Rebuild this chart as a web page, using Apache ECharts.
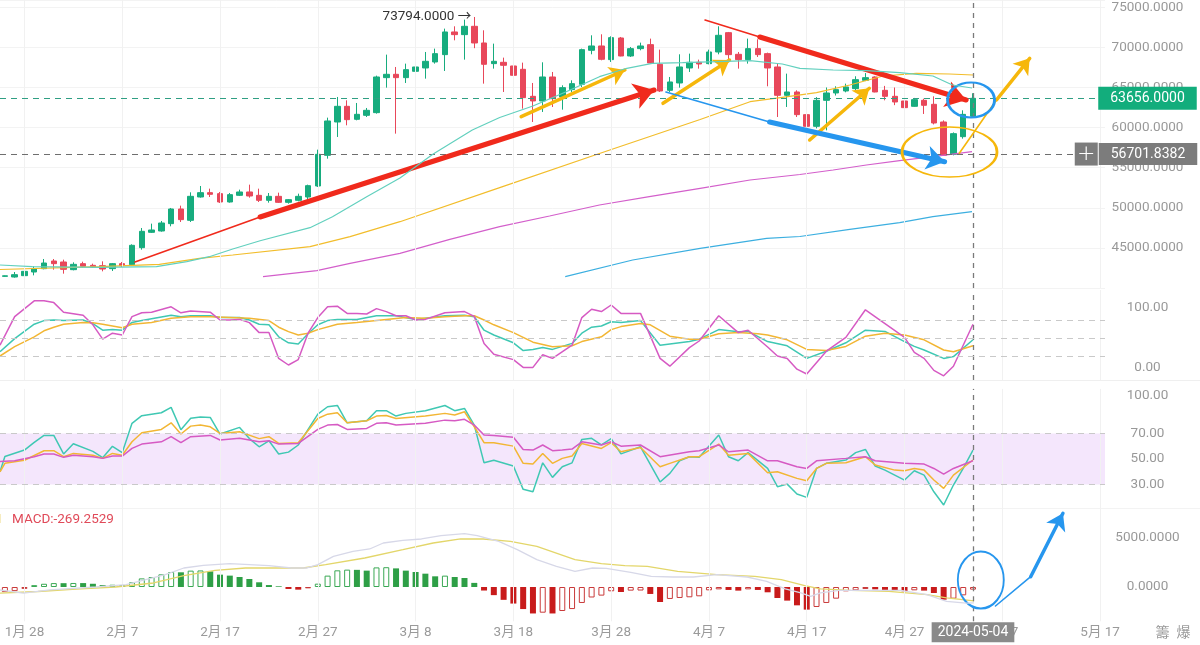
<!DOCTYPE html>
<html><head><meta charset="utf-8">
<script src="https://cdn.jsdelivr.net/npm/echarts/dist/echarts.min.js"></script>
<style>html,body{margin:0;padding:0;background:#fff;}#c{width:1200px;height:645px;}</style>
</head><body><div id="c"></div>
<script>
// ---------- categories ----------
const startDay = [2024, 0, 26];
const dayCount = 113; // 2024-01-26 .. 2024-05-17
const dates = [];
for (let k = 0; k < dayCount; k++) {
  dates.push(new Date(Date.UTC(startDay[0], startDay[1], startDay[2] + k)).toISOString().slice(0, 10));
}
const tickDates = ['2024-01-28','2024-02-07','2024-02-17','2024-02-27','2024-03-08','2024-03-18','2024-03-28','2024-04-07','2024-04-17','2024-04-27','2024-05-07','2024-05-17'];
const crossDate = '2024-05-04';
const crossPrice = 56701.8382;

// ---------- candles [open, close, low, high] ----------
const ohlc = [
[41450,41520,41400,41560],[41371,41662,41289,41995],[41538,42078,41455,42535],[41995,42411,41580,42700],
[42411,43117,42328,43616],[43367,43034,42286,43616],[43242,42328,41787,43533],[42286,42951,42203,43200],
[43034,42702,42536,43284],[42827,42619,42494,43034],[42785,42369,42078,43325],[42411,43034,42120,43117],
[43034,42785,42619,43242],[42910,45321,42785,45446],[45030,47067,44780,47482],[46942,47233,46859,48023],
[47108,48106,47025,48356],[48023,49852,47690,49977],[49852,48522,48231,50268],[48439,51431,48231,51930],
[51348,51889,51265,52720],[51889,51681,51348,52388],[51764,50725,50600,51972],[50725,51640,50642,51847],
[51556,51972,51473,52263],[51972,51473,51265,52886],[51554,50931,50723,52386],[50931,51429,50640,51845],
[51429,50681,50598,51887],[50681,51014,50515,51097],[50931,51429,50806,51762],[51346,52760,50931,52885],
[52718,56668,52594,57250],[56543,60825,56127,61240],[60700,62654,58830,63818],[62654,60991,60284,63402],
[61033,61656,60907,63070],[61531,62155,61323,62446],[61864,66312,61740,66478],[66229,66645,64981,69097],
[66645,66229,59245,67559],[66229,67227,65564,67975],[67019,67559,66811,70053],[67435,68266,66104,69430],
[68183,69222,67975,69846],[69097,71924,67060,72340],[71924,71591,70885,72631],[71591,72631,68474,73462],
[72631,70552,69900,73794],[70552,67892,65480,72132],[67975,68266,67352,70469],[68141,67767,64441,68723],
[67684,66520,66395,68723],[67268,63734,62363,68100],[63901,63319,60700,65564],[63319,66312,61947,68141],
[66312,63610,62571,66935],[63818,64981,62239,65272],[64732,65480,64441,65896],[65397,69721,65065,69846],
[69638,70178,69139,71508],[70178,68515,68390,71633],[68474,71217,68183,71383],[71175,68931,68890,71300],
[68931,69846,68806,70053],[69846,70178,69638,70594],[70344,68058,67975,71092],[67892,64566,64441,69721],
[64649,65688,64441,66312],[65563,67559,64981,69139],[67435,68141,66935,69222],[68141,67933,67352,68474],
[67975,69430,67892,69721],[69430,71508,69139,72631],[71840,69097,68390,71924],[69139,68474,67352,69430],
[68474,69846,67975,71092],[69846,69097,68806,71009],[69222,67435,65148,69347],[67559,64026,61323,67975],
[64026,64441,62571,66728],[64441,61615,61323,64649],[61615,60159,59869,62155],[60159,63402,59900,63800],
[63402,64317,59660,65000],[64317,64733,64000,65150],[64567,65066,64400,65480],[64858,65980,64600,66400],
[65897,66228,65800,66800],[66312,64441,64400,66400],[64649,63901,63400,65200],[63901,63194,62800,65000],
[63319,62488,62300,63400],[62654,63485,62600,63700],[63402,62779,61700,63600],[62904,60575,60400,63900],
[60700,56542,56500,60900],[56667,59245,56540,59400],[58870,61650,58620,62155],[61400,63656,61300,64280]
];

// ---------- moving averages [dayIndex, price] ----------
const maTeal = [[-0.5,42868],[2.8,42655],[9.7,42580],[15.5,42655],[18.6,43280],[20.9,43902],[23.3,44862],[26.1,45897],[31.2,47518],[33.5,48890],[37,51384],[40.4,53716],[43.8,56708],[47.8,59700],[50.6,61260],[54,62693],[57.4,64476],[60.8,66347],[63.6,67394],[66.2,68017],[69.3,68092],[72.8,68217],[76.2,68342],[79.5,67930],[81.3,67394],[84.7,67182],[88.1,67095],[91.5,66845],[94.9,66434],[96.9,65312],[98.9,64938]];
const maYellow = [[-0.5,42307],[9.7,42655],[15.8,42955],[19.9,43703],[23.3,44115],[31.2,45150],[35.3,46397],[40.4,48267],[50.6,52519],[60.8,56770],[71.1,61010],[76.2,63230],[79.5,63778],[83,64352],[86.4,65312],[89.8,66434],[93.2,66770],[96.6,66683],[99,66558]];
const maMagenta = [[26.4,41410],[31.9,42157],[35.3,43080],[40.4,44326],[45.5,46072],[50.6,47643],[55.7,48977],[60.8,50349],[65.9,51384],[71.1,52431],[76.2,53466],[81.3,54152],[84.7,54713],[88.1,55336],[91.5,55873],[94.9,56372],[98.9,56995]];
const maBlue = [[57.3,41410],[64.2,43492],[71.1,44950],[77.9,46197],[81.3,46422],[86.4,47320],[91.5,48142],[94.9,48890],[98.9,49514]];

// ---------- KDJ [dayIndex, value] ----------
const kdjK = [[-0.5,27],[1,49],[3,73],[4,79],[5,80],[6,79],[8,80],[9,74],[10,63],[11,64],[12,63],[13,76],[14,79],[17,88],[18,85.6],[19,87],[21,87],[22,84],[24,84],[25,80],[26,73],[27,72],[28,52],[29,42],[30,40],[31,57],[32,72],[33,79],[34,81],[36,81],[38,87],[40,87],[42,81],[43,83],[45,87],[47,88],[48,85.6],[49,63],[50,55],[52,42],[53,29],[54,31],[55,34],[56,31],[58,41],[59,58],[60,68],[61,70],[62,77],[63,76],[65,79],[67,38],[68,40],[70,44],[71,48],[73,64],[75,60.6],[76,61],[78,44],[80,37],[82,16],[84,28],[86,42],[88,63],[90,61],[92,44],[93,36],[94,30],[96,16],[97,19],[99,47]];
const kdjD = [[-0.5,20],[1,35.5],[3,52],[4,62],[5,68],[6,73],[8,76],[9,75.6],[10,73],[12,67],[13,73],[15,76],[17,83],[19,85.6],[21,85.6],[25,83],[27,79],[28,68],[29,60.6],[30,55],[31,58],[32,64],[34,73],[36,76],[39,81],[41,84],[43,83],[45,85.6],[47,87],[48,87],[49,80],[50,72],[52,59],[54,43],[56,35.5],[58,37],[59,44],[61,52],[62,64],[63,69],[65,74],[66,72],[68,53],[70,48],[71,48],[73,57],[75,59],[77,57],[78,55],[80,47],[82,31],[84,29],[86,36],[88,53],[90,58],[92,55],[94,47],[96,30],[97,27],[99,37]];
const kdjJ = [[-0.5,38],[1,85.6],[3,112],[4,112],[5,109],[6,93],[8,88],[9,72],[10,48],[11,58],[12,55],[13,85.6],[14,92],[15,93],[17,102],[18,92],[19,95],[21,93],[22,80],[23,80],[24,81],[25,75.6],[26,59],[27,59],[28,16],[29,5],[30,14],[31,58],[32,84],[33,102],[34,103],[35,91],[36,91],[37,90],[38,99],[39,94],[40,87],[41,87],[42,80],[43,81],[45,92],[47,94],[48,86],[49,41],[50,23],[52,14],[53,1],[54,1],[55,22],[56,16],[58,38],[59,84],[60,98],[61,94],[62,105],[63,91],[65,91],[67,16],[68,3],[70,34],[71,45],[73,87],[75,59],[76,63],[78,35],[79,20],[80,16],[81,-2],[82,-10],[84,28],[86,51],[88,97],[90,74],[92,51],[93,26],[94,16],[95,-4],[96,-13],[97,3],[99,73]];

// ---------- RSI [dayIndex, value] ----------
const rsi6 = [[-0.5,40],[0,52],[2,57],[3,63],[4,68.5],[5,68.5],[6,54],[7,62],[9,56],[10,51],[11,60],[12,55],[13,78],[14,84],[16,86.3],[17,90.5],[18,73],[19,82],[20,83],[21,82.6],[22,69.6],[24,74.8],[25,66],[26,59.6],[27,64.3],[28,53.9],[29,55.4],[30,61],[32,85.2],[33,91],[34,92],[35,78.4],[37,80],[38,87.9],[39,87.9],[40,83.7],[41,85.8],[43,87.9],[45,92],[46,87.9],[47,89.7],[48,76.6],[49,47],[50,49],[52,44.5],[53,26.2],[54,24.3],[55,47],[56,35.6],[57,43.9],[58,47],[59,65.4],[60,66.2],[61,61],[62,66],[63,54],[65,59.6],[67,32],[68,38.7],[69,48.6],[70,51.8],[71,51.3],[73,68.8],[74,51.8],[75,48.6],[76,55],[78,42.6],[79,28.3],[80,30.3],[81,22.5],[82,19.9],[83,42.6],[84,46.6],[86,49.2],[87,55],[88,57.5],[89,44.5],[90,41.3],[91,37.4],[92,33.5],[93,40.8],[94,37.4],[95,24.3],[96,13.9],[97,29.6],[98,42.6],[99,57]];
const rsi12 = [[-0.5,40],[0,46.6],[2,49],[4,56.5],[5,56.5],[6,51.8],[7,54.4],[9,53],[10,50.5],[11,54.4],[12,53],[13,63.5],[14,70.6],[16,73.2],[17,78.4],[18,69.6],[19,75.8],[20,76.6],[21,75.3],[22,70.1],[24,71.4],[26,66],[27,67.5],[28,62.2],[30,62.8],[32,81.8],[33,85.2],[34,86.3],[35,78.4],[37,80],[38,83.7],[39,84.2],[40,81.8],[43,83.7],[45,85.8],[46,84.5],[47,87.1],[48,75.3],[49,62.8],[50,62.8],[52,60.1],[53,46.6],[54,46],[55,54.4],[56,46.6],[57,50.5],[58,52.3],[59,62.2],[61,58.3],[62,62.8],[63,55.7],[65,59.1],[67,43.9],[68,46.6],[70,51.8],[71,51.8],[73,61.7],[74,53],[76,54.4],[78,39.2],[79,40],[81,34.8],[82,33],[83,42.6],[84,46.6],[86,47.1],[88,51.8],[89,45.3],[91,41.3],[92,40.8],[93,42.6],[94,41.3],[95,33.5],[96,27],[97,37.4],[99,49.2]];
const rsi24 = [[-0.5,48],[1,48.6],[3,51.8],[4,53.9],[5,53.9],[6,51.3],[7,53],[9,51.8],[10,50.5],[11,52.3],[12,52.3],[13,58.3],[14,61.7],[16,63.5],[17,67.5],[18,62.8],[19,67.5],[21,68.5],[22,64.9],[24,66.2],[26,63.5],[27,64.3],[28,61.7],[30,62.2],[32,73.2],[33,76.6],[34,77.1],[35,73.2],[37,74],[38,78],[39,78.4],[40,76.6],[43,78],[45,80.5],[46,80],[47,81.1],[48,76.6],[49,68.8],[50,68.5],[52,67],[53,57.5],[54,57],[55,61],[56,56.5],[57,57],[58,57.8],[59,63.5],[61,61],[62,63.5],[63,60.1],[65,61],[67,51.8],[70,55.7],[71,56.5],[73,61],[74,55.7],[76,57],[78,48.6],[79,48.6],[81,44],[82,42.6],[83,48.6],[86,50.5],[88,51.8],[89,48.6],[92,46.6],[94,46],[95,42.6],[96,38.2],[97,42.6],[99,48.6]];

// ---------- MACD ----------
const macdHist = [-520,-420,-190,190,330,400,390,410,400,330,200,230,200,480,880,1020,1290,1530,1500,1670,1690,1600,1260,1160,1020,816,480,200,70,-200,-270,-136,340,1160,1700,1770,1750,1670,2000,2020,1900,1670,1530,1360,1090,1160,1020,920,420,-360,-830,-1310,-1690,-2250,-2700,-2620,-2700,-2450,-2250,-1630,-1070,-880,-440,-510,-370,-360,-710,-1530,-1220,-1120,-1050,-950,-340,-240,-300,-370,-240,-300,-540,-1120,-1390,-1870,-2310,-2040,-1630,-1190,-440,-340,-200,-240,-300,-370,-440,-340,-370,-610,-1290,-1190,-850,-269.2529];
const macdDif = [[-0.5,-306],[1.9,-630],[4.6,-300],[9.3,0],[12.4,240],[14.4,750],[16.4,1260],[18.3,1940],[20.3,2210],[23,2380],[25,2280],[27,2180],[29.3,1940],[30.9,1940],[32,2280],[33.6,3130],[35.6,3640],[37.3,3880],[38.7,4490],[40.7,4760],[42.6,4900],[44.6,5240],[47,5440],[48.3,5240],[50.5,4660],[52.4,3810],[54.4,2790],[56.4,2110],[58.3,1600],[60.1,1940],[61.5,1900],[64,1500],[66.1,1090],[68.3,1020],[70.4,1020],[72.8,1260],[75.9,1020],[77.9,580],[79.8,-200],[81.4,-610],[82.4,-950],[83.4,-610],[85.3,-340],[88.5,-340],[91.6,-340],[94.3,-780],[96.3,-1460],[98.3,-1650],[99.1,-1620]];
const macdDea = [[-0.5,-630],[3.4,-460],[7.3,-220],[11.3,0],[15.2,410],[18.3,1160],[21.5,1700],[24.6,1940],[27,1940],[30.5,1940],[32.8,2280],[36.8,2960],[40.7,3810],[43.8,4490],[46.6,4900],[48.9,4900],[51.7,4660],[54.4,4150],[58.3,2790],[61,2380],[63.4,2180],[65.7,2110],[68.8,1600],[72.8,1260],[76.7,1090],[79.4,750],[81.8,140],[83.4,-200],[86.5,-340],[90.4,-440],[94.3,-780],[96.3,-1120],[99.1,-1420]];

// ---------- hand-drawn annotations [dayIndex, value] ----------
const redUpArrow = [[13.3,43243],[26.1,48853],[66.4,64688]];
const yellowArrowA = [[52.8,61359],[63.4,67182]];
const yellowArrowB = [[67.3,63030],[74.1,68429]];
const yellowArrowC = [[82.3,58454],[88.4,64900]];
const yellowArrowD = [[97.6,56795],[101.4,63441],[104.8,68641]];
const blueDownArrow = [[67.6,64439],[78.2,60698],[96.1,55748]];
const redDownArrow = [[71.6,73416],[77.2,71297],[98.3,63441]];
const yellowEllipse = [96.6,56957];
const blueEllipse = [98.8,63441];
const macdEllipse = [99.8,714];
const macdArrow = [[101.3,-1939],[104.9,1051],[108.2,7520]];

// ---------- rendering ----------
const FONT = 'Roboto, "Noto Sans CJK SC", "Noto Sans CJK TC", sans-serif';
const UP = '#17ac7e', DN = '#e8475a';
const GW = 1105;
const lastPrice = ohlc[ohlc.length - 1][1];
const tickSet = new Set(tickDates);
const fmtDate = v => (+v.slice(5, 7)) + '月 ' + (+v.slice(8, 10));
const tickIdx = tickDates.map(d => dates.indexOf(d));
const crossIdx = dates.indexOf(crossDate);

const gridLineStyle = {color: '#f1f1f1', width: 1, type: 'solid'};
const crossStyle = {color: '#7a7a7a', width: 1.3, type: [5, 5]};
function vLinesIdx() {
  const arr = tickIdx.map(i => ({xAxis: i, lineStyle: gridLineStyle}));
  arr.push({xAxis: crossIdx, lineStyle: crossStyle});
  return arr;
}
function seg(a, b, color, width, head, size) {
  return [
    {coord: a, symbol: 'none', lineStyle: {color: color, width: width, type: 'solid', cap: 'round'}},
    {coord: b, symbol: head ? 'arrow' : 'none', symbolSize: size || 16}
  ];
}
function ellipse(c, w, h, color, bw) {
  return {coord: c, symbol: 'circle', symbolSize: [w, h],
    itemStyle: {color: 'rgba(0,0,0,0)', borderColor: color, borderWidth: bw}, label: {show: false}};
}
const RED = '#f02a1c', YEL = '#f6b70b', BLU = '#2696ee';

const histData = macdHist.map((v, i) => {
  const rising = i === 0 ? true : v > macdHist[i - 1];
  const col = v >= 0 ? (rising ? '#3aa854' : '#2e9f46') : (rising ? '#c93a3a' : '#c81b1b');
  return {value: v, itemStyle: rising ? {color: '#ffffff', borderColor: col, borderWidth: 1} : {color: col, borderColor: col, borderWidth: 0}};
});

function catAxis(g, show) {
  return {type: 'category', gridIndex: g, data: dates, boundaryGap: true,
    axisLine: {show: false}, axisTick: {show: false}, splitLine: {show: false},
    axisLabel: show ? {show: true, interval: 0, color: '#9a9a9a', fontSize: 13.5, margin: 5,
      formatter: v => tickSet.has(v) ? fmtDate(v) : ''} : {show: false}};
}
function valAxis(g) {
  return {type: 'value', gridIndex: g, min: -0.5, max: dates.length - 0.5, show: false, splitLine: {show: false}};
}
function yAx(g, min, max, interval, fmt, split) {
  return {type: 'value', gridIndex: g, position: 'right', min: min, max: max, interval: interval, scale: true,
    axisLine: {show: false}, axisTick: {show: false},
    splitLine: {show: !!split, lineStyle: {color: '#f3f3f3'}},
    axisLabel: {color: '#999', fontSize: 13.5, align: 'center', margin: 42.5, formatter: fmt}};
}
const lineS = (name, data, color, xi, yi, w) => ({name: name, type: 'line', xAxisIndex: xi, yAxisIndex: yi, data: data,
  showSymbol: false, symbol: 'none', lineStyle: {color: color, width: w || 1.3}, z: 3, silent: true});

const mkBase = {silent: true, symbol: ['none', 'none'], label: {show: false}, emphasis: {disabled: true}, animation: false};

const option = {
  animation: false,
  backgroundColor: '#ffffff',
  textStyle: {fontFamily: FONT},
  grid: [
    {left: 0, top: 0, width: GW, height: 288, containLabel: false, outerBoundsMode: 'none'},
    {left: 0, top: 290, width: GW, height: 90, containLabel: false, outerBoundsMode: 'none'},
    {left: 0, top: 388.9, width: GW, height: 121.1, containLabel: false, outerBoundsMode: 'none'},
    {left: 0, top: 508.6, width: GW, height: 112.7, containLabel: false, outerBoundsMode: 'none'}
  ],
  xAxis: [catAxis(0, false), valAxis(0), catAxis(1, false), valAxis(1), catAxis(2, false), valAxis(2), catAxis(3, true), valAxis(3)],
  yAxis: [
    yAx(0, 40000, 75910, 5000, v => (v % 5000 === 0 && v >= 45000 && v <= 75000) ? v.toFixed(4) : '', true),
    yAx(1, -20, 130, 10, v => (v === 0 || v === 100) ? v.toFixed(2) : ''),
    yAx(2, 10, 105, 5, v => [30, 50, 70, 100].indexOf(v) >= 0 ? v.toFixed(2) : ''),
    yAx(3, -3500, 8000, 500, v => (v === 0 || v === 5000) ? v.toFixed(4) : '')
  ],
  series: [
    {type: 'candlestick', xAxisIndex: 0, yAxisIndex: 0, data: ohlc.map(d => d.slice()), barWidth: 6, z: 2, silent: true,
      itemStyle: {color: UP, color0: DN, borderColor: UP, borderColor0: DN, borderWidth: 1},
      markPoint: {silent: true, animation: false, data: [{type: 'max', valueDim: 'highest', symbol: 'circle', symbolSize: 0,
        label: {show: true, position: 'left', distance: 3, color: '#333', fontSize: 13.5,
          formatter: p => Number(p.value).toFixed(4) + ' \u2192'}}]},
      markLine: Object.assign({}, mkBase, {data: [
        ...tickDates.map(d => ({xAxis: d, lineStyle: gridLineStyle})),
        {xAxis: crossDate, lineStyle: crossStyle},
        {yAxis: lastPrice, lineStyle: {color: '#2f9f83', width: 1, type: [6, 5]},
          label: {show: true, position: 'end', distance: 42.5, align: 'center', formatter: lastPrice.toFixed(4),
            backgroundColor: '#12ad7c', color: '#fff', fontSize: 14, lineHeight: 15, padding: [4, 12]}},
        {yAxis: crossPrice, lineStyle: {color: '#6e6e6e', width: 1, type: [6, 5]},
          label: {show: true, position: 'end', distance: 31, align: 'center', formatter: '{p|+}{g|}{v|' + crossPrice.toFixed(4) + '}',
            rich: {
              p: {backgroundColor: '#7c7c7c', color: '#fff', width: 23, height: 23, lineHeight: 23, align: 'center', fontSize: 22, fontFamily: 'DejaVu Sans', fontWeight: 200},
              g: {width: 1, height: 23},
              v: {backgroundColor: '#7c7c7c', color: '#fff', fontSize: 14, lineHeight: 15, padding: [4, 12]}
            }}}
      ]})},
    Object.assign(lineS('MA-teal', maTeal, '#62d0be', 1, 0, 1.2), {
      markLine: Object.assign({}, mkBase, {data: [
        seg(redUpArrow[0], redUpArrow[1], RED, 1.6, false),
        seg(redUpArrow[1], redUpArrow[2], RED, 5, true, 20),
        seg(yellowArrowA[0], yellowArrowA[1], YEL, 3.5, true, 15),
        seg(yellowArrowB[0], yellowArrowB[1], YEL, 3.5, true, 15),
        seg(yellowArrowC[0], yellowArrowC[1], YEL, 3.5, true, 15),
        seg(yellowArrowD[0], yellowArrowD[1], YEL, 1.6, false),
        seg(yellowArrowD[1], yellowArrowD[2], YEL, 3.5, true, 15),
        seg(blueDownArrow[0], blueDownArrow[1], BLU, 1.6, false),
        seg(blueDownArrow[1], blueDownArrow[2], BLU, 5, true, 18),
        seg(redDownArrow[0], redDownArrow[1], RED, 1.6, false),
        seg(redDownArrow[1], redDownArrow[2], RED, 5, true, 20)
      ]}),
      markPoint: {silent: true, animation: false, data: [
        ellipse(yellowEllipse, 95, 50, YEL, 2),
        ellipse(blueEllipse, 47, 35, BLU, 2.5)
      ]}, z: 5}),
    lineS('MA-yellow', maYellow, '#f2bd2b', 1, 0, 1.2),
    lineS('MA-magenta', maMagenta, '#d35fcb', 1, 0, 1.2),
    lineS('MA-blue', maBlue, '#3cafe0', 1, 0, 1.2),

    Object.assign(lineS('K', kdjK, '#3fc8b3', 3, 1, 1.5), {
      markLine: Object.assign({}, mkBase, {data: [
        ...vLinesIdx(),
        {yAxis: 20, lineStyle: {color: '#c9c9c9', type: [6, 5], width: 1}},
        {yAxis: 50, lineStyle: {color: '#c9c9c9', type: [6, 5], width: 1}},
        {yAxis: 80, lineStyle: {color: '#c9c9c9', type: [6, 5], width: 1}}
      ]})}),
    lineS('D', kdjD, '#f2b634', 3, 1, 1.5),
    lineS('J', kdjJ, '#d65ac3', 3, 1, 1.5),

    Object.assign(lineS('RSI6', rsi6, '#3fc8b3', 5, 2, 1.5), {
      markArea: {silent: true, itemStyle: {color: '#f4e6fc'}, data: [[{yAxis: 30}, {yAxis: 70}]]},
      markLine: Object.assign({}, mkBase, {data: [
        ...vLinesIdx(),
        {yAxis: 30, lineStyle: {color: '#c9c9c9', type: [6, 5], width: 1}},
        {yAxis: 70, lineStyle: {color: '#c9c9c9', type: [6, 5], width: 1}}
      ]})}),
    lineS('RSI12', rsi12, '#f2b634', 5, 2, 1.5),
    lineS('RSI24', rsi24, '#d65ac3', 5, 2, 1.5),

    {type: 'bar', xAxisIndex: 6, yAxisIndex: 3, data: histData, barWidth: 6, silent: true, z: 2,
      markLine: Object.assign({}, mkBase, {data: [
        ...tickDates.map(d => ({xAxis: d, lineStyle: gridLineStyle})),
        {xAxis: crossDate, lineStyle: crossStyle,
          label: {show: true, position: 'start', distance: 1, formatter: crossDate, backgroundColor: '#8a8a8a', color: '#fff',
            fontSize: 14, lineHeight: 14, padding: [3, 6]}}
      ]})},
    Object.assign(lineS('DIF', macdDif, '#d7d8e8', 7, 3, 1.3), {
      markLine: Object.assign({}, mkBase, {data: [
        seg(macdArrow[0], macdArrow[1], BLU, 1.6, false),
        seg(macdArrow[1], macdArrow[2], BLU, 3.5, true, 16)
      ]}),
      markPoint: {silent: true, animation: false, data: [ellipse(macdEllipse, 46, 57, BLU, 2)]}, z: 5}),
    lineS('DEA', macdDea, '#e3d66a', 7, 3, 1.3)
  ],
  graphic: [
    {type: 'rect', shape: {x: 0, y: 380, width: 1200, height: 1}, style: {fill: '#efefef'}, silent: true, z: -1},
    {type: 'rect', shape: {x: 0, y: 508, width: 1200, height: 1}, style: {fill: '#f3f3f3'}, silent: true, z: -1},
    {type: 'text', x: 3, y: 520, silent: true, style: {text: '1', fill: '#e6c84d', font: '13.5px ' + FONT, align: 'right', verticalAlign: 'middle'}},
    {type: 'text', x: 12, y: 520, silent: true, style: {text: 'MACD:' + macdHist[macdHist.length - 1].toFixed(4), fill: '#e04a59', font: '13.5px ' + FONT, align: 'left', verticalAlign: 'middle'}},
    {type: 'text', x: 1173, y: 633, silent: true, style: {text: '籌  爆', fill: '#9a9a9a', font: '14px ' + FONT, align: 'center', verticalAlign: 'middle'}}
  ]
};

const chart = echarts.init(document.getElementById('c'), null, {renderer: 'canvas', width: 1200, height: 645});
chart.setOption(option);
</script>
</body></html>
